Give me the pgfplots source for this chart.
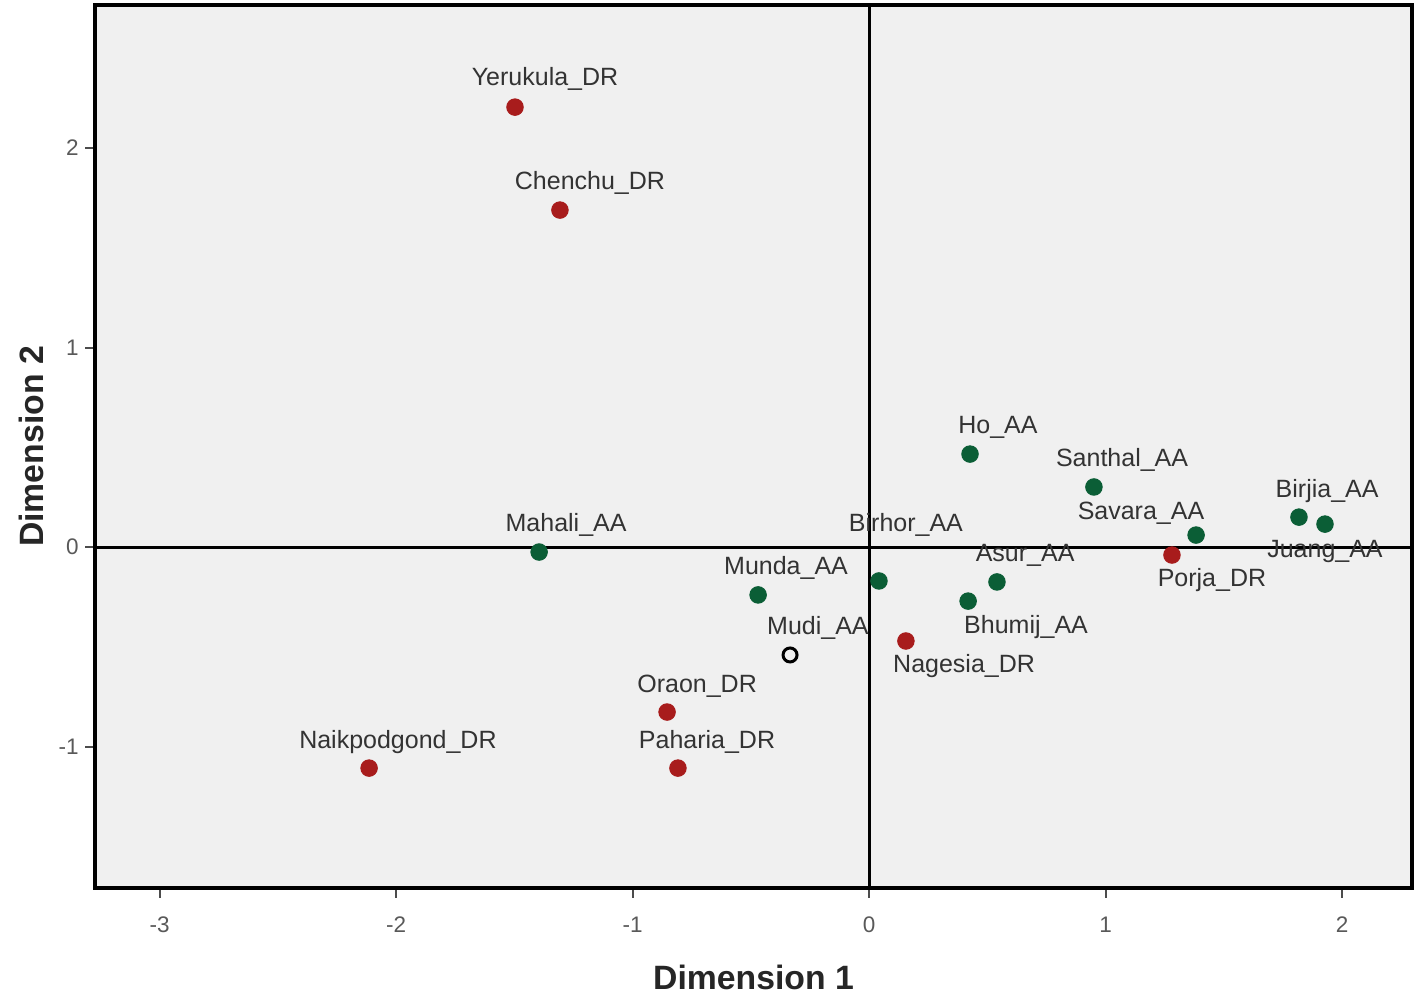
\documentclass[border=0pt]{standalone}
\usepackage{pgfplots}
\pgfplotsset{compat=1.18}
\usepackage{fontspec}
\setmainfont{Liberation Sans}
\definecolor{bg}{HTML}{F0F0F0}
\definecolor{dr}{HTML}{A81C1C}
\definecolor{aa}{HTML}{0B5E36}
\definecolor{lab}{HTML}{333333}
\begin{document}
\begin{tikzpicture}
\begin{axis}[
  scale only axis, width=526.8pt, height=353.2pt,
  xmin=-3.273, xmax=2.296, ymin=-1.709, ymax=2.717,
  axis background/.style={fill=bg},
  axis line style={line width=1.5pt},
  xtick={-3,-2,-1,0,1,2}, ytick={-1,0,1,2},
  tick align=outside, xtick pos=bottom, ytick pos=left,
  major tick length=4pt,
  tick style={line width=0.8pt, color=black!70},
  ticklabel style={font=\fontsize{9}{10}\selectfont, color=black!65},
  /pgf/number format/assume math mode=true,
  xticklabel style={yshift=-4pt},
  yticklabel style={xshift=1pt},
  xlabel={\textbf{Dimension 1}}, ylabel={\textbf{Dimension 2}},
  label style={font=\fontsize{13.5}{14}\selectfont, color=black!85},
  xlabel style={yshift=-6pt},
  ylabel style={yshift=-1pt},
  clip=false,
]
\draw[line width=1.2pt] (axis cs:0,-1.709) -- (axis cs:0,2.717);
\draw[line width=1.2pt] (axis cs:-3.273,0) -- (axis cs:2.296,0);
% DR (red)
\addplot[only marks, mark=*, mark size=3.3pt, color=dr, mark options={fill=dr, draw=dr}] coordinates {
 (-1.497,2.205) (-1.307,1.689) (-0.854,-0.827) (-0.808,-1.108) (-2.114,-1.108)
 (0.156,-0.471) (1.281,-0.040)
};
% AA (green)
\addplot[only marks, mark=*, mark size=3.3pt, color=aa, mark options={fill=aa, draw=aa}] coordinates {
 (-1.395,-0.025) (-0.469,-0.240) (0.042,-0.170) (0.427,0.466) (0.541,-0.175)
 (0.419,-0.271) (0.951,0.301) (1.383,0.060) (1.818,0.150) (1.928,0.115)
};
% Mudi (open)
\addplot[only marks, mark=o, mark size=2.8pt, line width=1.2pt, color=black] coordinates {(-0.334,-0.541)};
\begin{scope}[every node/.style={font=\fontsize{10}{11}\selectfont, color=lab, inner sep=0pt}]
\node at (axis cs:-1.370,2.346) {Yerukula\_DR};
\node at (axis cs:-1.180,1.825) {Chenchu\_DR};
\node at (axis cs:-1.281,0.110) {Mahali\_AA};
\node at (axis cs:-0.351,-0.105) {Munda\_AA};
\node at (axis cs:-0.216,-0.406) {Mudi\_AA};
\node at (axis cs:-0.727,-0.697) {Oraon\_DR};
\node at (axis cs:-0.685,-0.977) {Paharia\_DR};
\node at (axis cs:-1.992,-0.977) {Naikpodgond\_DR};
\node at (axis cs:0.156,0.110) {Birhor\_AA};
\node at (axis cs:0.402,-0.596) {Nagesia\_DR};
\node at (axis cs:0.545,0.602) {Ho\_AA};
\node at (axis cs:0.660,-0.040) {Asur\_AA};
\node at (axis cs:0.664,-0.401) {Bhumij\_AA};
\node at (axis cs:1.070,0.436) {Santhal\_AA};
\node at (axis cs:1.150,0.170) {Savara\_AA};
\node at (axis cs:1.450,-0.165) {Porja\_DR};
\node at (axis cs:1.937,0.281) {Birjia\_AA};
\node at (axis cs:1.928,-0.020) {Juang\_AA};
\end{scope}
\end{axis}
\pgfresetboundingbox
\path (-38pt,-43.2pt) rectangle (529.2pt,355.2pt);
\end{tikzpicture}
\end{document}
